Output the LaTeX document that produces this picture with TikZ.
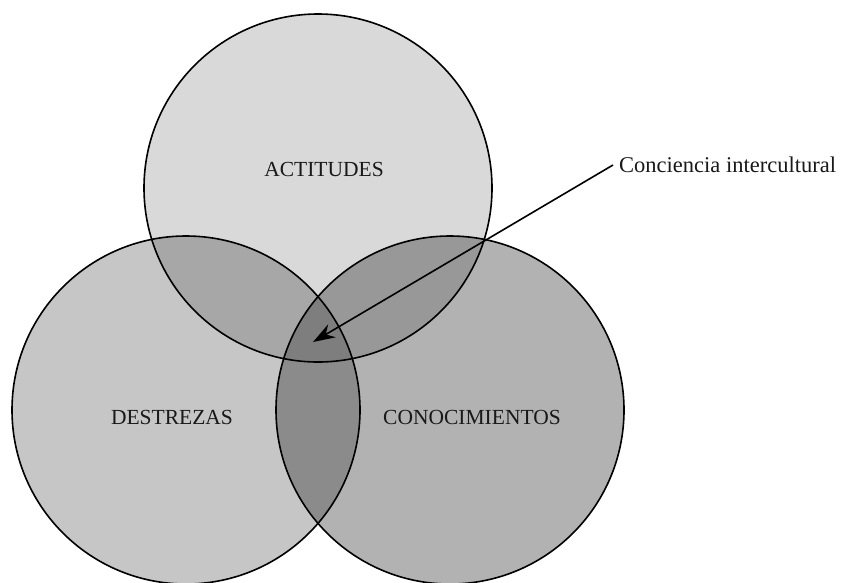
\documentclass[tikz,border=0pt]{standalone}
\usepackage{fontspec}
\setmainfont{Liberation Serif}
\usetikzlibrary{arrows.meta}
\definecolor{cTop}{HTML}{D9D9D9}
\definecolor{cLeft}{HTML}{C6C6C6}
\definecolor{cRight}{HTML}{B2B2B2}
\definecolor{cTL}{HTML}{A7A7A7}
\definecolor{cTR}{HTML}{989898}
\definecolor{cLR}{HTML}{8B8B8B}
\definecolor{cAll}{HTML}{7E7E7E}
\tikzset{
  ring/.style={draw=black, line width=1.6pt},
  setlabel/.style={font=\fontsize{21.5}{24}\selectfont, text=black!90},
  pointer/.style={line width=1.6pt, -{Stealth[length=22pt, width=15pt]}},
}
\begin{document}
\begin{tikzpicture}[x=1pt, y=-1pt]
  \useasboundingbox (0,0) rectangle (846,582);
  \def\R{174}
  \coordinate (T) at (318,188);
  \coordinate (L) at (186,410);
  \coordinate (Rc) at (450,410);
  % base discs
  \fill[cTop] (T) circle (\R);
  \fill[cLeft] (L) circle (\R);
  \fill[cRight] (Rc) circle (\R);
  % pairwise overlaps
  \begin{scope}
    \clip (T) circle (\R);
    \fill[cTL] (L) circle (\R);
    \fill[cTR] (Rc) circle (\R);
  \end{scope}
  \begin{scope}
    \clip (L) circle (\R);
    \fill[cLR] (Rc) circle (\R);
  \end{scope}
  % triple overlap
  \begin{scope}
    \clip (T) circle (\R);
    \clip (L) circle (\R);
    \fill[cAll] (Rc) circle (\R);
  \end{scope}
  % outlines
  \draw[ring] (T) circle (\R);
  \draw[ring] (L) circle (\R);
  \draw[ring] (Rc) circle (\R);
  % set names
  \node[setlabel] (act) at (324,169) {ACTITUDES};
  \node[setlabel] (des) at (172,417) {DESTREZAS};
  \node[setlabel] (con) at (472,417) {CONOCIMIENTOS};
  % pointer to the common region
  \node[setlabel, font=\fontsize{22.5}{26}\selectfont, anchor=west, inner sep=6pt] (ci) at (613,165) {Conciencia intercultural};
  \coordinate (core) at (313,342);
  \draw[pointer] (ci.west) -- (core);
\end{tikzpicture}
\end{document}
